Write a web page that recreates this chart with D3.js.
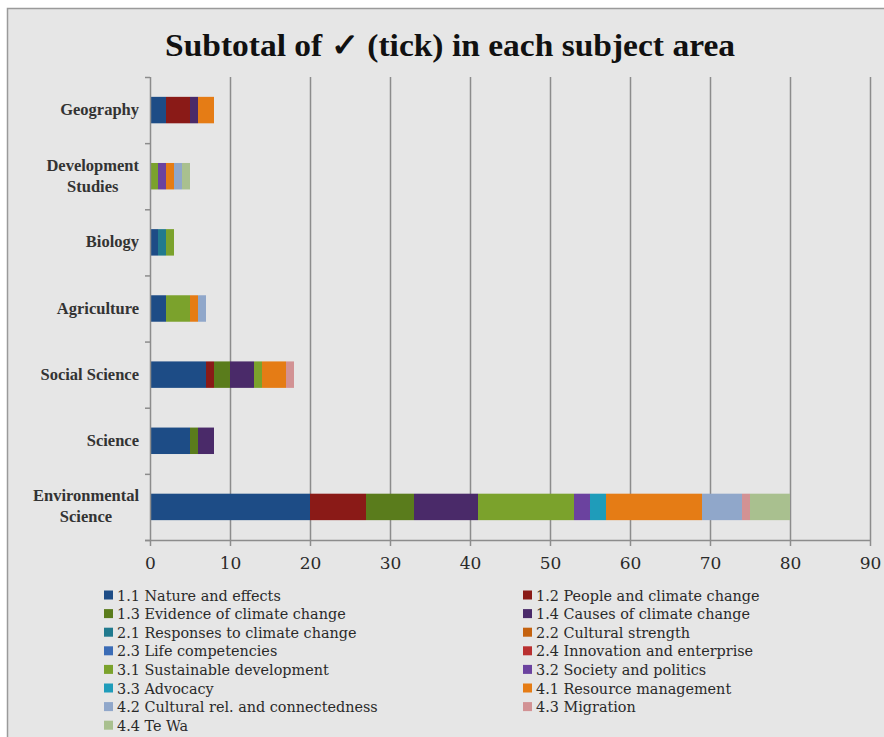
<!DOCTYPE html>
<html>
<head>
<meta charset="utf-8">
<script src="https://cdn.jsdelivr.net/npm/d3@7"></script>
<style>
  html, body { margin: 0; padding: 0; background: #ffffff; }
  svg { display: block; }
</style>
</head>
<body>
<svg id="chart" width="884" height="737"></svg>
<script>
// Subject areas, top to bottom
const categories = ["Geography", "Development Studies", "Biology", "Agriculture",
  "Social Science", "Science", "Environmental Science"];

// Curriculum themes (stack order)
const seriesNames = [
  "1.1 Nature and effects", "1.2 People and climate change",
  "1.3 Evidence of climate change", "1.4 Causes of climate change",
  "2.1 Responses to climate change", "2.2 Cultural strength",
  "2.3 Life competencies", "2.4 Innovation and enterprise",
  "3.1 Sustainable development", "3.2 Society and politics",
  "3.3 Advocacy", "4.1 Resource management",
  "4.2 Cultural rel. and connectedness", "4.3 Migration", "4.4 Te Wa"
];

const seriesColors = [
  "#1d4c86", "#8a1a17", "#5a7c1c", "#4a2a69",
  "#217a8e", "#c4620f", "#3b6cb6", "#b93030",
  "#7ba22c", "#6b429f", "#1f9cba", "#e57c15",
  "#90a7ca", "#d29294", "#a9c08f"
];

// Tick counts per subject area, one array per theme (order follows categories)
const s11 = [2, 0, 1, 2, 7, 5, 20];
const s12 = [3, 0, 0, 0, 1, 0, 7];
const s13 = [0, 0, 0, 0, 2, 1, 6];
const s14 = [1, 0, 0, 0, 3, 2, 8];
const s21 = [0, 0, 1, 0, 0, 0, 0];
const s22 = [0, 0, 0, 0, 0, 0, 0];
const s23 = [0, 0, 0, 0, 0, 0, 0];
const s24 = [0, 0, 0, 0, 0, 0, 0];
const s31 = [0, 1, 1, 3, 1, 0, 12];
const s32 = [0, 1, 0, 0, 0, 0, 2];
const s33 = [0, 0, 0, 0, 0, 0, 2];
const s41 = [2, 1, 0, 1, 3, 0, 12];
const s42 = [0, 1, 0, 1, 0, 0, 5];
const s43 = [0, 0, 0, 0, 1, 0, 1];
const s44 = [0, 1, 0, 0, 0, 0, 5];

const seriesValues = [s11, s12, s13, s14, s21, s22, s23, s24, s31, s32, s33, s41, s42, s43, s44];

const xTicks = [0, 10, 20, 30, 40, 50, 60, 70, 80, 90];

const titleText = "Subtotal of \u2713 (tick) in each subject area";

// ---------------------------------------------------------------
const svg = d3.select("#chart");
const W = 884, H = 737;
const serif = "'Liberation Serif', 'DejaVu Serif', serif";
const wideSerif = "'DejaVu Serif', 'Liberation Serif', serif";

// panel background with frame on top and left
svg.append("rect").attr("x", 7).attr("y", 8).attr("width", W - 7).attr("height", H - 8)
  .attr("fill", "#e6e6e6");
svg.append("path").attr("d", `M7.5,${H} V8.5 H${W}`)
  .attr("fill", "none").attr("stroke", "#9a9a9a").attr("stroke-width", 1.5);

// title
svg.append("text")
  .attr("x", 450).attr("y", 56)
  .attr("text-anchor", "middle")
  .attr("font-family", serif)
  .attr("font-weight", "bold")
  .attr("font-size", 32)
  .attr("textLength", 570)
  .attr("lengthAdjust", "spacingAndGlyphs")
  .attr("fill", "#111")
  .text(titleText);

const plot = { left: 150, right: 870, top: 77, bottom: 540 };

const x = d3.scaleLinear().domain([0, 90]).range([plot.left, plot.right]);
const y = d3.scaleBand().domain(categories).range([plot.top, plot.bottom])
  .paddingInner(0.6).paddingOuter(0.3);

// vertical gridlines
svg.append("g").selectAll("line").data(xTicks.filter(d => d > 0)).join("line")
  .attr("x1", d => x(d) + 0.5).attr("x2", d => x(d) + 0.5)
  .attr("y1", plot.top).attr("y2", plot.bottom)
  .attr("stroke", "#8c8c8c").attr("stroke-width", 1.5);

// stacked data
const rows = categories.map((c, i) => {
  const r = { category: c };
  seriesNames.forEach((s, j) => { r[s] = seriesValues[j][i]; });
  return r;
});
const stack = d3.stack().keys(seriesNames)(rows);

const color = d3.scaleOrdinal().domain(seriesNames).range(seriesColors);

svg.append("g").selectAll("g").data(stack).join("g")
  .attr("fill", d => color(d.key))
  .selectAll("rect").data(d => d.filter(v => v[1] - v[0] > 0)).join("rect")
  .attr("x", d => x(d[0]))
  .attr("width", d => x(d[1]) - x(d[0]))
  .attr("y", d => y(d.data.category))
  .attr("height", y.bandwidth());

// x axis
const xAxis = svg.append("g")
  .attr("transform", `translate(0,${plot.bottom})`)
  .call(d3.axisBottom(x).tickValues(xTicks).tickSize(6).tickPadding(11).tickSizeOuter(0));
xAxis.select(".domain").attr("stroke", "#8c8c8c").attr("stroke-width", 1.5)
  .attr("d", `M${plot.left - 5},0.5H${plot.right}`);
xAxis.selectAll(".tick line").attr("stroke", "#8c8c8c").attr("stroke-width", 1.5);
xAxis.selectAll(".tick text")
  .attr("font-family", wideSerif).attr("font-size", 17).attr("fill", "#2a2a2a");

// y axis line with band boundary ticks
const yAxisG = svg.append("g");
yAxisG.append("line")
  .attr("x1", plot.left + 0.5).attr("x2", plot.left + 0.5)
  .attr("y1", plot.top).attr("y2", plot.bottom)
  .attr("stroke", "#8c8c8c").attr("stroke-width", 1.5);
const boundaries = d3.range(categories.length + 1).map(i => plot.top + i * (plot.bottom - plot.top) / categories.length);
yAxisG.selectAll(".bt").data(boundaries).join("line")
  .attr("x1", plot.left - 5).attr("x2", plot.left)
  .attr("y1", d => d + 0.5).attr("y2", d => d + 0.5)
  .attr("stroke", "#8c8c8c").attr("stroke-width", 1.5);

// category labels (wrapped, lines centred on each other, block right aligned)
const labelRight = 139;
categories.forEach(c => {
  const words = c.split(" ");
  const lines = (c === "Development Studies" || c === "Environmental Science") ? words : [c];
  const cy = y(c) + y.bandwidth() / 2;
  const g = svg.append("g");
  const lh = 21;
  const t = g.selectAll("text").data(lines).join("text")
    .attr("font-family", serif).attr("font-weight", "bold").attr("font-size", 16.5)
    .attr("fill", "#333")
    .attr("text-anchor", "middle")
    .attr("y", (d, i) => cy + (i - (lines.length - 1) / 2) * lh + 5)
    .text(d => d);
  let maxW = 0;
  t.each(function () { maxW = Math.max(maxW, this.getComputedTextLength()); });
  t.attr("x", labelRight - maxW / 2);
});

// legend: two columns, filled row by row
const legend = svg.append("g");
const legCols = [104, 523];
const legTop = 595, legStep = 18.6;
seriesNames.forEach((s, i) => {
  const col = i % 2, row = Math.floor(i / 2);
  const lx = legCols[col], ly = legTop + row * legStep;
  legend.append("rect").attr("x", lx).attr("y", ly - 4.5).attr("width", 9).attr("height", 9)
    .attr("fill", color(s));
  legend.append("text").attr("x", lx + 13).attr("y", ly + 5.5)
    .attr("font-family", wideSerif).attr("font-size", 14.4).attr("fill", "#2a2a2a")
    .text(s);
});
</script>
</body>
</html>
